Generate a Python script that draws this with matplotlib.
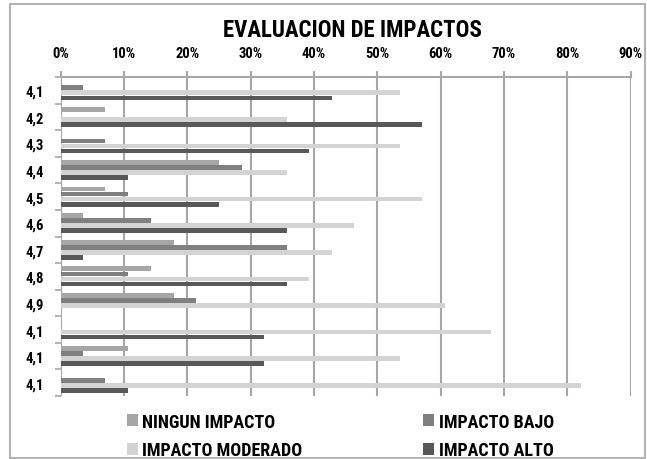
import numpy as np
import matplotlib
matplotlib.use('Agg')
import matplotlib.pyplot as plt
from matplotlib.patches import Patch, Rectangle

plt.rcParams['font.family'] = ['Roboto Condensed', 'Encode Sans Condensed', 'DejaVu Sans']
plt.rcParams['font.weight'] = 'bold'

# encuesta: 28 respuestas por pregunta, valores en porcentaje
categorias = ['4,1', '4,2', '4,3', '4,4', '4,5', '4,6', '4,7', '4,8', '4,9', '4,1', '4,1', '4,1']
ningun = [0.0, 7.1, 0.0, 25.0, 7.1, 3.6, 17.9, 14.3, 17.9, 0.0, 10.7, 0.0]
bajo = [3.6, 0.0, 7.1, 28.6, 10.7, 14.3, 35.7, 10.7, 21.4, 0.0, 3.6, 7.1]
moderado = [53.6, 35.7, 53.6, 35.7, 57.1, 46.4, 42.9, 39.3, 60.7, 67.9, 53.6, 82.1]
alto = [42.9, 57.1, 39.3, 10.7, 25.0, 35.7, 3.6, 35.7, 0.0, 32.1, 32.1, 10.7]
series = ['NINGUN IMPACTO', 'IMPACTO BAJO', 'IMPACTO MODERADO', 'IMPACTO ALTO']
colores = ['#a6a6a6', '#7f7f7f', '#d3d3d3', '#585858']

W, H = 647, 460
fig = plt.figure(figsize=(W/100, H/100), dpi=100)

# marco exterior
fig.patches.append(Rectangle((10/W, 1/H), 635/W, 454/H, transform=fig.transFigure,
                             fill=False, edgecolor='#b4b4b4', linewidth=1.5))

ax = fig.add_axes([60.5/W, 1 - 397/H, 570.2/W, (397 - 78)/H])

y = np.arange(len(categorias))
h = 0.19
datos = [ningun, bajo, moderado, alto]
for i, (vals, c) in enumerate(zip(datos, colores)):
    ax.barh(y + (i - 1.5)*h, np.array(vals)/100, height=h*0.92, color=c, zorder=3)

ax.set_xlim(0, 0.9)
ax.set_ylim(len(categorias) - 0.5, -0.5)
ax.set_xticks(np.arange(0, 0.91, 0.1))
ax.set_xticklabels(['%d%%' % v for v in range(0, 91, 10)], fontsize=10.5, fontweight='bold')
ax.xaxis.tick_top()
ax.tick_params(axis='x', length=4, width=1.5, color='#a6a6a6', pad=8)
ax.set_yticks(y)
ax.set_yticklabels(categorias, fontsize=10.5, fontweight='bold')
ax.set_yticks(np.arange(-0.5, len(categorias), 1), minor=True)
ax.tick_params(axis='y', which='major', length=0, pad=12)
ax.tick_params(axis='y', which='minor', length=4, width=1.2, color='#a6a6a6')
ax.grid(axis='x', color='#a6a6a6', linewidth=1.5, zorder=0)
for s in ['left', 'right', 'bottom']:
    ax.spines[s].set_visible(False)
ax.spines['top'].set_color('#a6a6a6')
ax.spines['top'].set_linewidth(1.5)

fig.text(352/W, 1 - 31/H, 'EVALUACION DE IMPACTOS', ha='center', va='center',
         fontsize=16.5, fontweight='bold')

# leyenda en dos columnas, cada una como leyenda propia
for cols, x0 in [([0, 2], 126.5), ([1, 3], 423)]:
    handles = [Patch(facecolor=colores[i], label=series[i]) for i in cols]
    fig.legend(handles=handles, loc='center left', bbox_to_anchor=(x0/W, 1 - 437/H),
               frameon=False, handlelength=0.62, handleheight=0.62,
               handletextpad=0.25, labelspacing=0.6, borderpad=0, borderaxespad=0,
               prop={'weight': 'bold', 'size': 13})

fig.savefig('out.png', dpi=100)
